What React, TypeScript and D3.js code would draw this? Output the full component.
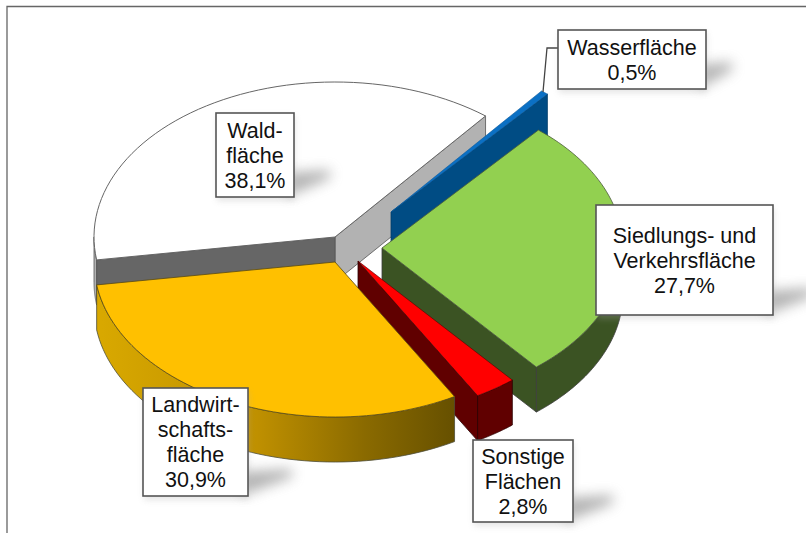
import React from 'react'
import * as d3 from 'd3'

const names = ['Waldfläche', 'Wasserfläche', 'Siedlungs- und Verkehrsfläche', 'Sonstige Flächen', 'Landwirtschaftsfläche']
const shares = [38.1, 0.5, 27.7, 2.8, 30.9]
const labelLines = [
  ['Wald-', 'fläche', '38,1%'],
  ['Wasserfläche', '0,5%'],
  ['Siedlungs- und', 'Verkehrsfläche', '27,7%'],
  ['Sonstige', 'Flächen', '2,8%'],
  ['Landwirt-', 'schafts-', 'fläche', '30,9%'],
]
const topColors = ['#ffffff', '#0b70c4', '#92d050', '#ff0000', '#ffc000']

const width = 806
const height = 533
const rx = 241
const ry = 155
const depth = 45
const firstAngle = (261.5 * Math.PI) / 180

// where each exploded slice has its tip
const tips: [number, number][] = [[335, 237], [391, 212], [382, 248], [358, 261], [335, 262]]
// label boxes: x, y, w, h
const boxes = [
  [216, 113, 78, 84],
  [558, 30, 148, 59],
  [596, 205, 177, 110],
  [473, 440, 100, 82],
  [143, 388, 105, 108],
]
const shadowLengths = [36, 26, 40, 40, 44]

const pie = d3.pie<number>().sort(null).startAngle(firstAngle).endAngle(firstAngle + 2 * Math.PI)
const slices = pie(shares)

const line = d3.line()
const project = (tip: [number, number], a: number, dy = 0): [number, number] => [
  tip[0] + rx * Math.sin(a),
  tip[1] - ry * Math.cos(a) + dy,
]
const arcPoints = (tip: [number, number], a0: number, a1: number, dy = 0) =>
  d3.range(0, 61).map(i => project(tip, a0 + ((a1 - a0) * i) / 60, dy))

const topFace = (tip: [number, number], a0: number, a1: number) =>
  line([tip, ...arcPoints(tip, a0, a1)]) + 'Z'
const cutFace = (tip: [number, number], a: number) =>
  line([tip, project(tip, a), project(tip, a, depth), [tip[0], tip[1] + depth]]) + 'Z'
const rimFace = (tip: [number, number], a0: number, a1: number) =>
  line([...arcPoints(tip, a0, a1), ...arcPoints(tip, a1, a0, depth)]) + 'Z'

const deg = (d: number) => (d * Math.PI) / 180
const edge = '#3c3c3c'

export default function App() {
  const [wald, wasser, siedlung, sonstige, land] = slices
  const [tw, tb, tg, tr, ty] = tips
  return (
    <svg width={width} height={height} style={{ position: 'absolute', left: 0, top: 0, background: '#fff' }}>
      <defs>
        <linearGradient id="landRim" gradientUnits="userSpaceOnUse" x1={95} x2={455} y1={0} y2={0}>
          <stop offset="0" stopColor="#d9a900" />
          <stop offset="0.45" stopColor="#bf9000" />
          <stop offset="0.75" stopColor="#8a6a00" />
          <stop offset="1" stopColor="#665000" />
        </linearGradient>
        <filter id="soft" x="-80%" y="-120%" width="260%" height="340%">
          <feGaussianBlur stdDeviation="6.5" />
        </filter>
        <filter id="glow" x="-20%" y="-20%" width="140%" height="140%">
          <feGaussianBlur stdDeviation="3" />
        </filter>
      </defs>

      <path d={`M7,${height}V6.5H${width}`} fill="none" stroke="#666" strokeWidth={1.3} />

      {/* Waldfläche */}
      <path d={rimFace(tw, wald.startAngle, deg(270))} fill="#b2b2b2" stroke="#555" strokeWidth={0.8} />
      <path d={cutFace(tw, wald.endAngle)} fill="#b2b2b2" stroke="#555" strokeWidth={0.8} />
      <path d={cutFace(tw, wald.startAngle)} fill="#666666" stroke="#555" strokeWidth={0.8} />
      <path d={topFace(tw, wald.startAngle, wald.endAngle)} fill={topColors[0]} stroke="#666" strokeWidth={1} />

      {/* Wasserfläche */}
      <path d={cutFace(tb, wasser.endAngle)} fill="#004c84" stroke="#003c68" strokeWidth={0.8} />
      <path d={topFace(tb, wasser.startAngle, wasser.endAngle)} fill={topColors[1]} stroke="#0b5a9c" strokeWidth={0.6} />

      {/* Siedlungs- und Verkehrsfläche */}
      <path d={rimFace(tg, deg(450), siedlung.endAngle)} fill="#3b5323" stroke={edge} strokeWidth={0.8} />
      <path d={cutFace(tg, siedlung.endAngle)} fill="#3b5323" stroke={edge} strokeWidth={0.8} />
      <path d={topFace(tg, siedlung.startAngle, siedlung.endAngle)} fill={topColors[2]} stroke="#4a5a3a" strokeWidth={0.8} />

      {/* Sonstige Flächen */}
      <path d={rimFace(tr, sonstige.startAngle, sonstige.endAngle)} fill="#600000" stroke="#2a0000" strokeWidth={0.8} />
      <path d={cutFace(tr, sonstige.endAngle)} fill="#600000" stroke="#2a0000" strokeWidth={0.8} />
      <path d={topFace(tr, sonstige.startAngle, sonstige.endAngle)} fill={topColors[3]} stroke="#500000" strokeWidth={0.6} />

      {/* Landwirtschaftsfläche */}
      <path d={rimFace(ty, land.startAngle, land.endAngle)} fill="url(#landRim)" stroke="#4e4e3a" strokeWidth={0.8} />
      <path d={topFace(ty, land.startAngle, land.endAngle)} fill={topColors[4]} stroke="#5a4a10" strokeWidth={0.8} />

      <path d="M558,48H547L543,92" fill="none" stroke="#444" strokeWidth={1.3} />

      {names.map((name, i) => {
        const [x, y, w, h] = boxes[i]
        const len = shadowLengths[i]
        const r = x + w
        const b = y + h
        const lines = labelLines[i]
        const blockH = (lines.length - 1) * 25
        const firstBase = y + h / 2 - blockH / 2 + 7.5
        return (
          <g key={name}>
            <rect x={x + 1} y={y + 3} width={w} height={h + 1} fill="#aaa" opacity={0.3} filter="url(#glow)" />
            <path d={`M${r - 6},${b - 1}L${r - 6},${b - 24}L${r + len},${b - 27}L${r + len},${b - 19}Z`} fill="#888" opacity={0.65} filter="url(#soft)" />
            <rect x={x} y={y} width={w} height={h} fill="#fff" stroke="#555" strokeWidth={1.6} />
            <text
              textAnchor="middle"
              fontFamily="'Liberation Sans', Arial, sans-serif"
              fontSize={21.5}
              fill="#111"
            >
              {lines.map((t, j) => (
                <tspan key={j} x={x + w / 2} y={firstBase + j * 25}>{t}</tspan>
              ))}
            </text>
          </g>
        )
      })}
    </svg>
  )
}
